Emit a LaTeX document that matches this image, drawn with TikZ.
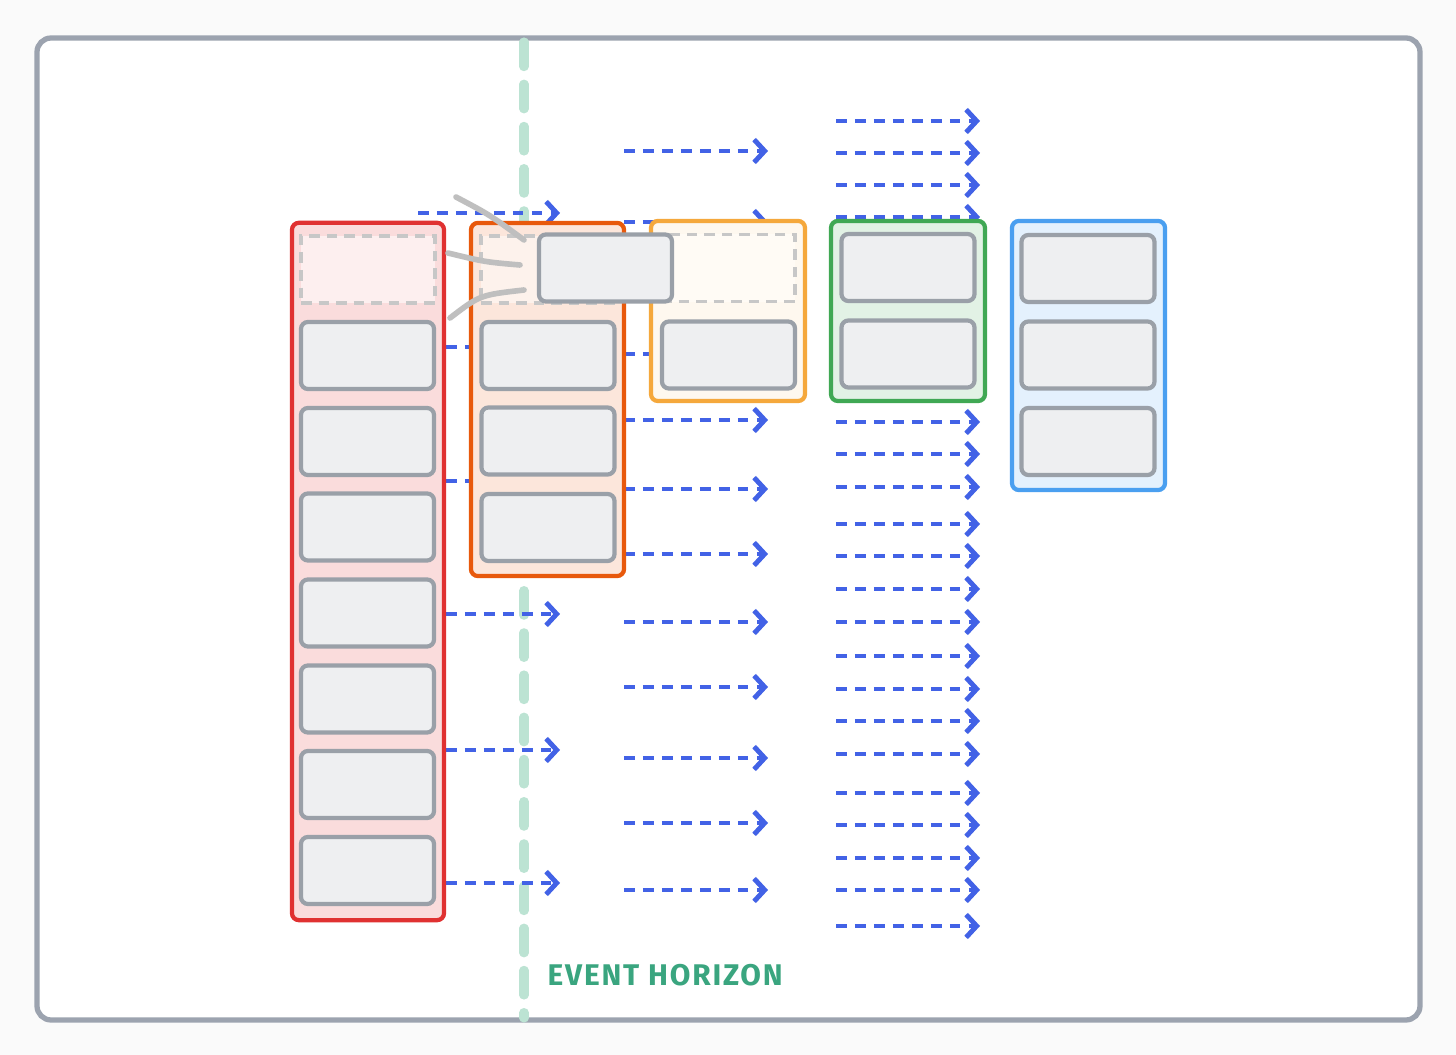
\documentclass[tikz,border=0pt]{standalone}
\usepackage{fontspec}
\setmainfont{Fira Sans}
\usepackage{xcolor}
\usetikzlibrary{arrows.meta}
\definecolor{frame}{HTML}{9CA3AF}
\definecolor{cardline}{HTML}{9AA0A8}
\definecolor{cardfill}{HTML}{EEEFF1}
\definecolor{flow}{HTML}{4262E6}
\definecolor{horizon}{HTML}{BCE3D3}
\definecolor{horizontext}{HTML}{3AA57F}
\definecolor{redline}{HTML}{E03131}
\definecolor{orangeline}{HTML}{E8590C}
\definecolor{yellowline}{HTML}{F5A83C}
\definecolor{greenline}{HTML}{40A854}
\definecolor{blueline}{HTML}{4A9FF0}
\tikzset{
  card/.style={draw=cardline, fill=cardfill, line width=1.2pt, rounded corners=2pt,
    minimum width=1.33cm, minimum height=0.67cm, inner sep=0pt},
  ghost/.style={draw=black!22, dashed, line width=0.9pt, dash pattern=on 3pt off 2pt,
    minimum width=1.34cm, minimum height=0.67cm, inner sep=0pt},
  column/.style={line width=1.2pt, rounded corners=2pt, inner sep=0pt},
  flowarrow/.style={draw=flow, line width=1.4pt, dash pattern=on 3pt off 2.4pt,
    -{Straight Barb[length=3pt,width=6.5pt,line width=1.4pt]}},
  trail/.style={draw=black!25, line width=1.6pt, line cap=round},
}
\begin{document}
\begin{tikzpicture}[x=0.01cm,y=-0.01cm]
    \useasboundingbox[fill=black!2] (0,0) rectangle (1456,1055);
    \draw[frame, fill=white, line width=1.5pt, rounded corners=4pt] (37,38) rectangle (1420,1020);

    % horizon line
    \draw[horizon, line width=2.6pt, dash pattern=on 7pt off 5pt, line cap=round] (524,42) -- (524,1018);
    \node[text=horizontext, font=\bfseries\fontsize{8.5}{9}\selectfont, anchor=west, inner sep=0pt] (label) at (547,975) {\addfontfeature{LetterSpace=6}EVENT HORIZON};

    % flow arrows, first band
    \coordinate (a0) at (418,213); \coordinate (b0) at (560,213);
    \draw[flowarrow] (a0) -- (b0);
    \foreach \y in {347,481,614,750,883} {
        \coordinate (a) at (446,\y); \coordinate (b) at (560,\y);
        \draw[flowarrow] (a) -- (b);
    }
    % second band
    \foreach \y in {151,222,354,420,489,554,622,687,758,823,890} {
        \coordinate (a) at (624,\y); \coordinate (b) at (768,\y);
        \draw[flowarrow] (a) -- (b);
    }
    % third band
    \foreach \y in {121,153,185,217,422,454,487,524,556,589,622,656,689,721,754,793,825,858,890,926} {
        \coordinate (a) at (836,\y); \coordinate (b) at (980,\y);
        \draw[flowarrow] (a) -- (b);
    }

    % columns
    \node[column, draw=redline, fill=redline!17, minimum width=1.52cm, minimum height=6.97cm] (red) at (368,571.5) {};
    \node[column, draw=orangeline, fill=orangeline!15, minimum width=1.53cm, minimum height=3.53cm] (orange) at (547.5,399.5) {};
    \node[column, draw=yellowline, fill=yellowline!8, minimum width=1.54cm, minimum height=1.80cm] (yellow) at (728,311) {};
    \node[column, draw=greenline, fill=greenline!15, minimum width=1.54cm, minimum height=1.80cm] (green) at (908,311) {};
    \node[column, draw=blueline, fill=blueline!15, minimum width=1.53cm, minimum height=2.69cm] (blue) at (1088.5,355.5) {};

    % empty slots
    \node[ghost, fill=redline!8] (r0) at (368,269.5) {};
    \node[ghost, fill=orangeline!8] (o0) at (548,269.5) {};
    \node[ghost, fill=yellowline!5] (y0) at (728,268) {};

    % cards
    \foreach \y [count=\i] in {355.5,441.5,527,613,699,784.5,870.5}
        \node[card] (r\i) at (367.5,\y) {};
    \foreach \y [count=\i] in {355.5,441,527.5}
        \node[card] (o\i) at (548,\y) {};
    \node[card] (y1) at (728.5,355) {};
    \node[card] (g1) at (908,267.5) {};
    \node[card] (g2) at (908,354) {};
    \foreach \y [count=\i] in {268.5,355,441.5}
        \node[card] (b\i) at (1088,\y) {};

    % card in transit
    \draw[trail] (456,197) .. controls (490,215) .. (524,240);
    \draw[trail] (448,253) .. controls (485,262) .. (520,265);
    \draw[trail] (450,318) .. controls (480,295) .. (524,290);
    \node[card] (move) at (605.5,268) {};
\end{tikzpicture}
\end{document}
